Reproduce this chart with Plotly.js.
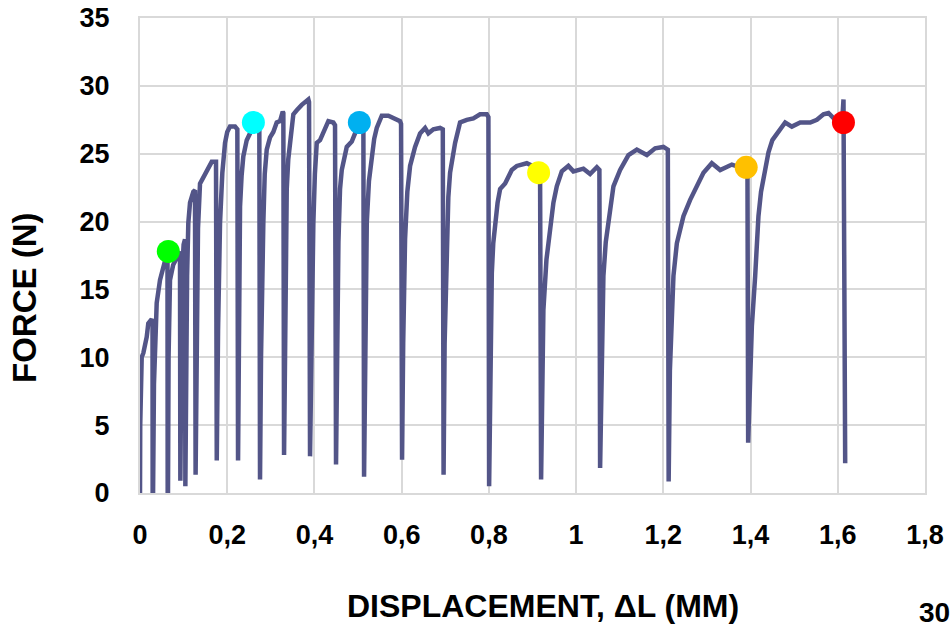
<!DOCTYPE html>
<html>
<head>
<meta charset="utf-8">
<script src="https://cdn.plot.ly/plotly-3.0.1.min.js"></script>
<style>html,body{margin:0;padding:0;background:#fff;}#chart{width:952px;height:628px;}</style>
</head>
<body>
<div id="chart"></div>
<script>
// Displacement (mm) and force (N)
const displacement = [
0,0.0005,0.0039,0.0076,0.0154,0.0190,0.0268,0.0287,0.0290,0.0300,0.0320,0.0350,0.0383,0.0459,0.0534,0.0600,0.0630,0.0635,0.0642,0.0655,0.0688,0.0760,0.0842,0.0900,0.0917,0.0925,0.0940,0.0963,0.1000,0.1032,0.1040,0.1055,0.1080,0.1108,0.1147,0.1222,0.1261,0.1275,0.1300,0.1330,0.1376,0.1452,0.1530,0.1644,0.1743,0.1760,0.1790,0.1810,0.1835,0.1888,0.1950,0.2000,0.2064,0.2179,0.2232,0.2248,0.2265,0.2294,0.2330,0.2369,0.2447,0.2523,0.2599,0.2720,0.2736,0.2752,0.2775,0.2800,0.2828,0.2860,0.2906,0.2982,0.3057,0.3135,0.3211,0.3273,0.3287,0.3303,0.3325,0.3345,0.3365,0.3400,0.3440,0.3516,0.3594,0.3709,0.3860,0.3876,0.3899,0.3925,0.3950,0.3975,0.4010,0.4053,0.4128,0.4243,0.4319,0.4433,0.4472,0.4495,0.4520,0.4550,0.4587,0.4626,0.4741,0.4856,0.4931,0.5030,0.5100,0.5122,0.5138,0.5160,0.5180,0.5200,0.5250,0.5314,0.5370,0.5429,0.5544,0.5695,0.5849,0.5963,0.5986,0.6009,0.6035,0.6078,0.6130,0.6193,0.6307,0.6422,0.6537,0.6612,0.6727,0.6881,0.6943,0.6961,0.6985,0.7034,0.7070,0.7110,0.7165,0.7225,0.7339,0.7493,0.7644,0.7798,0.7952,0.7989,0.8005,0.8025,0.8067,0.8100,0.8142,0.8200,0.8257,0.8372,0.8525,0.8640,0.8869,0.9060,0.9140,0.9174,0.9197,0.9220,0.9250,0.9320,0.9404,0.9480,0.9557,0.9672,0.9823,0.9938,1.0167,1.0321,1.0475,1.0534,1.0550,1.0580,1.0626,1.0680,1.0741,1.0856,1.1009,1.1200,1.1392,1.1622,1.1812,1.2002,1.2103,1.2122,1.2150,1.2190,1.2232,1.2310,1.2461,1.2615,1.2768,1.2920,1.3112,1.3303,1.3571,1.3761,1.3915,1.3929,1.3945,1.3990,1.4030,1.4106,1.4181,1.4240,1.4296,1.4411,1.4500,1.4603,1.4794,1.4947,1.5138,1.5213,1.5367,1.5521,1.5672,1.5787,1.5940,1.6100,1.6131,1.6170
];
const force = [
0,5,10.0,10.3,11.5,12.5,12.8,12.6,0,0,8,12.6,14.0,15.7,16.5,17.3,17.8,0,0,10,15.7,16.8,17.4,17.8,17.8,0.9,10,16,18.3,18.7,0.5,8,16,19.9,21.4,22.2,22.3,1.35,12,19.5,22.8,23.3,23.8,24.4,24.4,2.4,12,17,19.9,23.6,25.8,26.6,27.0,27.0,26.8,2.4,11,21.1,23.4,24.8,26.0,26.5,27.3,27.2,27.1,1.0,10,16,19.9,23.5,25.3,26.2,26.6,27.3,27.4,28.1,28.0,2.8,12,19,22.4,24.6,26.0,27.9,28.2,28.6,29.0,28.8,2.7,11,16.5,19.9,23.5,25.8,26.0,26.8,27.4,27.3,27.1,2.1,12,18.5,22.4,23.8,25.5,25.9,26.5,27.3,27.3,27.2,1.2,10,16,19.9,23,24.8,26.1,26.9,27.8,27.8,27.6,27.4,27.2,2.45,11,18.7,22.2,24.1,25.5,26.5,26.9,26.5,26.8,26.9,26.8,1.35,11,18.7,21.8,23.6,24.9,25.8,27.3,27.5,27.6,27.9,27.9,27.7,0.5,9,16.2,18.4,19.9,21.4,22.4,22.8,23.8,24.1,24.3,24.0,23.6,23.4,1.0,8,13.5,17.2,19.6,21.4,22.6,23.7,24.1,23.7,23.9,23.5,24.0,23.8,1.85,10,16.0,18.5,20.1,22.6,23.8,24.9,25.3,24.9,25.4,25.5,25.3,0.85,9,13.5,16.0,18.4,20.4,21.6,22.7,23.6,24.3,23.8,24.2,24.0,24.0,23.8,3.7,8,12.3,16.0,20.4,22.2,23.3,25.1,26.0,26.5,27.3,27.0,27.3,27.3,27.3,27.5,27.9,28.0,27.5,27.3,29.0,2.2
];
// Highlighted points
const markerX = [0.0649, 0.260, 0.503, 0.914, 1.390, 1.613];
const markerY = [17.8, 27.3, 27.3, 23.6, 24.0, 27.3];
const markerColors = ['#00ff00', '#00ffff', '#00b0f0', '#ffff00', '#ffc000', '#ff0000'];
// Tick labels
const xTickVals = [0, 0.2, 0.4, 0.6, 0.8, 1, 1.2, 1.4, 1.6, 1.8];
const xTickText = ['0', '0,2', '0,4', '0,6', '0,8', '1', '1,2', '1,4', '1,6', '1,8'];
const yTickVals = [0, 5, 10, 15, 20, 25, 30, 35];
const yTickText = ['0', '5', '10', '15', '20', '25', '30', '35'];

const FONT = 'Arial, "Liberation Sans", sans-serif';
const grid = '#d9d9d9';

const traces = [
  {x: displacement, y: force, mode: 'lines', type: 'scatter',
   line: {color: '#535588', width: 4.5}, hoverinfo: 'skip'},
  {x: markerX, y: markerY, mode: 'markers', type: 'scatter',
   marker: {color: markerColors, size: 23, line: {width: 0}}, hoverinfo: 'skip'}
];

const layout = {
  width: 952, height: 628,
  margin: {l: 140, r: 27, t: 18, b: 135},
  paper_bgcolor: '#ffffff', plot_bgcolor: '#ffffff',
  showlegend: false,
  font: {family: FONT, color: '#000000'},
  xaxis: {
    range: [0, 1.8], tickvals: xTickVals, ticktext: xTickText,
    showgrid: true, gridcolor: grid, gridwidth: 2,
    showline: true, linecolor: grid, linewidth: 2, mirror: true,
    zeroline: false, ticks: '', ticklabelstandoff: 17,
    tickfont: {family: FONT, size: 27, weight: 'bold', color: '#000'}
  },
  yaxis: {
    range: [0, 35], tickvals: yTickVals, ticktext: yTickText,
    showgrid: true, gridcolor: grid, gridwidth: 2,
    showline: true, linecolor: grid, linewidth: 2, mirror: true,
    zeroline: false, ticks: '', ticklabelstandoff: 23,
    tickfont: {family: FONT, size: 27, weight: 'bold', color: '#000'}
  },
  annotations: [
    {text: 'DISPLACEMENT, ΔL (MM)', xref: 'paper', yref: 'paper', x: (543-140)/785, y: -(606-493)/475,
     xanchor: 'center', yanchor: 'middle', showarrow: false,
     font: {family: FONT, size: 32, weight: 'bold', color: '#000'}},
    {text: 'FORCE (N)', xref: 'paper', yref: 'paper', x: -(140-24)/785, y: (493-298)/475,
     xanchor: 'center', yanchor: 'middle', showarrow: false, textangle: -90,
     font: {family: FONT, size: 33, weight: 'bold', color: '#000'}},
    {text: '30', xref: 'paper', yref: 'paper', x: (952-140)/785, y: -(612-493)/475,
     xanchor: 'right', yanchor: 'middle', showarrow: false,
     font: {family: FONT, size: 28, weight: 'bold', color: '#000'}}
  ]
};

Plotly.newPlot('chart', traces, layout, {staticPlot: true, displayModeBar: false});
</script>
</body>
</html>
